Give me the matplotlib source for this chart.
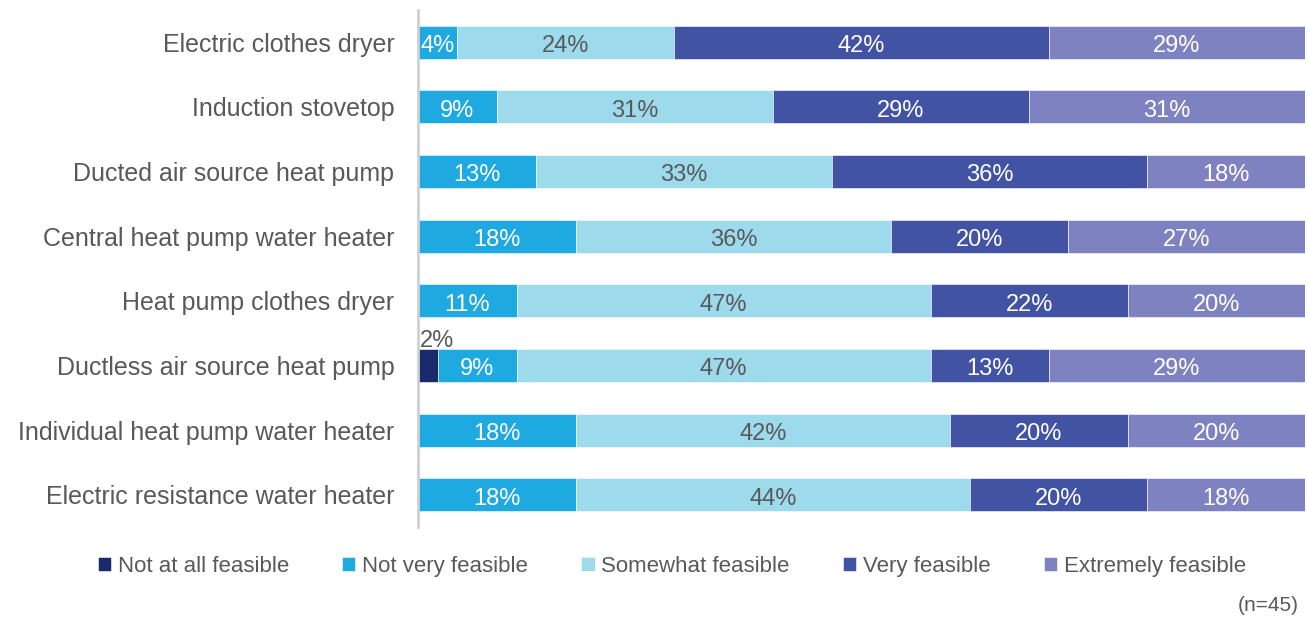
import numpy as np
import matplotlib.pyplot as plt
from matplotlib import font_manager

# --- Survey data (respondent counts, n=45) ---
n_resp = 45
categories = [
    "Electric clothes dryer",
    "Induction stovetop",
    "Ducted air source heat pump",
    "Central heat pump water heater",
    "Heat pump clothes dryer",
    "Ductless air source heat pump",
    "Individual heat pump water heater",
    "Electric resistance water heater",
]
levels = ["Not at all feasible", "Not very feasible", "Somewhat feasible",
          "Very feasible", "Extremely feasible"]

not_at_all = [0, 0, 0, 0, 0, 1, 0, 0]
not_very = [2, 4, 6, 8, 5, 4, 8, 8]
somewhat = [11, 14, 15, 16, 21, 21, 19, 20]
very = [19, 13, 16, 9, 10, 6, 9, 9]
extremely = [13, 14, 8, 12, 9, 13, 9, 8]

colors = ["#1B2A6B", "#1FA9E1", "#9DDAEC", "#4353A4", "#7F82C1"]
label_colors = ["#595959", "white", "#595959", "white", "white"]

# pick a narrow sans if available
names = {f.name for f in font_manager.fontManager.ttflist}
family = "Liberation Sans Narrow" if "Liberation Sans Narrow" in names else "Liberation Sans"
plt.rcParams['font.family'] = [family, 'DejaVu Sans']
text_gray = "#595959"

fig = plt.figure(figsize=(13.07, 6.18), dpi=100)
ax = fig.add_axes([0.3198, 0.147, 0.6787, 0.837])

series = [not_at_all, not_very, somewhat, very, extremely]
y = np.arange(len(categories))
left = np.zeros(len(categories))
for vals, col, lcol, name in zip(series, colors, label_colors, levels):
    share = np.array(vals) / n_resp
    ax.barh(y, share, left=left, height=0.51, color=col, label=name,
            edgecolor="white", linewidth=0.4)
    for yi, s, l in zip(y, share, left):
        if s <= 0:
            continue
        txt = f"{round(s * 100):.0f}%"
        if s < 0.03:
            # tiny segment: label sits above the bar
            ax.text(l + 0.002, yi - 0.42, txt, ha="left", va="center_baseline",
                    fontsize=17, color=text_gray)
        else:
            ax.text(l + s / 2, yi + 0.02, txt, ha="center", va="center_baseline",
                    fontsize=17, color=lcol)
    left += share

ax.set_xlim(0, 1)
ax.set_ylim(len(categories) - 0.5, -0.5)
ax.set_yticks(y)
ax.set_yticklabels(categories, fontsize=18, color=text_gray)
ax.tick_params(axis="y", length=0, pad=17)
ax.set_xticks([])
for side in ["top", "right", "bottom"]:
    ax.spines[side].set_visible(False)
ax.spines["left"].set_color("#D0D0D0")
ax.spines["left"].set_linewidth(2)

fig.legend(loc="center", bbox_to_anchor=(0.514, 0.084), ncol=5, frameon=False,
           fontsize=16, handlelength=0.6, handleheight=0.6, handletextpad=0.3,
           columnspacing=2.4, labelcolor=text_gray)
fig.text(0.994, 0.021, "(n=45)", ha="right", va="center", fontsize=15, color=text_gray)

plt.savefig("out.png", dpi=100)
